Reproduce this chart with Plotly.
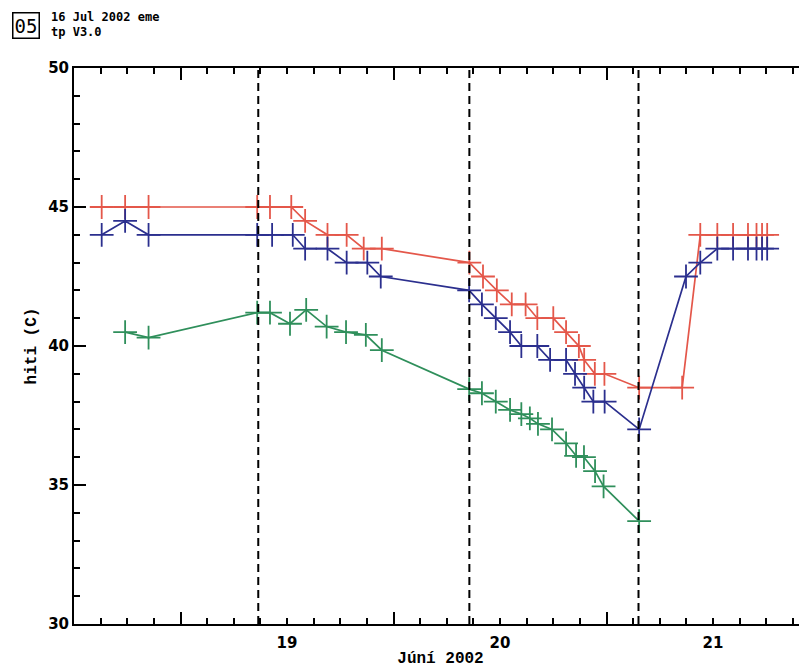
import plotly.graph_objects as go

# ---- data (day of June 2002, temperature in C) ----
red_days = [18.13, 18.24, 18.35, 18.86, 18.92, 19.02, 19.085, 19.19, 19.28, 19.36, 19.445,
            19.856, 19.92, 19.985, 20.055, 20.12, 20.175, 20.25, 20.31, 20.37, 20.395, 20.445,
            20.49, 20.653, 20.855, 20.94, 21.02, 21.094, 21.164, 21.204, 21.23, 21.254]
red_vals = [45.0, 45.0, 45.0, 45.0, 45.0, 45.0, 44.5, 44.0, 44.0, 43.5, 43.5,
            43.0, 42.5, 42.0, 41.5, 41.5, 41.0, 41.0, 40.5, 40.0, 39.5, 39.0,
            39.0, 38.5, 38.5, 44.0, 44.0, 44.0, 44.0, 44.0, 44.0, 44.0]

blue_days = [18.13, 18.24, 18.35, 18.86, 18.93, 19.027, 19.085, 19.19, 19.28, 19.377, 19.44,
             19.855, 19.915, 19.98, 20.047, 20.10, 20.175, 20.235, 20.31, 20.352, 20.395,
             20.438, 20.491, 20.653, 20.873, 20.94, 21.02, 21.094, 21.164, 21.204, 21.23, 21.254]
blue_vals = [44.0, 44.5, 44.0, 44.0, 44.0, 44.0, 43.5, 43.5, 43.0, 43.0, 42.5,
             42.0, 41.5, 41.0, 40.5, 40.0, 40.0, 39.5, 39.5, 39.0, 38.5,
             38.0, 38.0, 37.0, 42.5, 43.0, 43.5, 43.5, 43.5, 43.5, 43.5, 43.5]

green_days = [18.24, 18.35, 18.86, 18.92, 19.014, 19.09, 19.186, 19.277, 19.37, 19.445,
              19.855, 19.915, 19.98, 20.047, 20.10, 20.14, 20.178, 20.244, 20.31, 20.357,
              20.394, 20.446, 20.486, 20.653]
green_vals = [40.5, 40.3, 41.2, 41.2, 40.8, 41.3, 40.7, 40.5, 40.4, 39.85,
              38.45, 38.3, 38.0, 37.7, 37.55, 37.4, 37.2, 37.0, 36.5, 36.05,
              36.0, 35.5, 34.95, 33.7]

event_days = [18.865, 19.856, 20.650]

x_label_vals = [19, 20, 21]
x_label_text = ["19", "20", "21"]
x_long_ticks = [18.5, 19.5, 20.5, 21.5]
y_tick_vals = [30, 35, 40, 45, 50]
y_right_ticks = [35, 40, 45]

RED = "#e4574a"
BLUE = "#2b2f8e"
GREEN = "#2f8f5b"

fig = go.Figure()
for days, vals, col in [(red_days, red_vals, RED), (blue_days, blue_vals, BLUE),
                        (green_days, green_vals, GREEN)]:
    fig.add_trace(go.Scatter(
        x=days, y=vals, mode="lines+markers",
        line=dict(color=col, width=1.7),
        marker=dict(symbol="cross-thin", size=17, line=dict(color=col, width=1.8)),
        showlegend=False, xaxis="x", yaxis="y"))

# invisible traces to activate the overlay axes (extra tick sets)
fig.add_trace(go.Scatter(x=[18.0], y=[30], mode="markers", marker=dict(opacity=0),
                         xaxis="x2", yaxis="y", showlegend=False, hoverinfo="skip"))
fig.add_trace(go.Scatter(x=[18.0], y=[30], mode="markers", marker=dict(opacity=0),
                         xaxis="x", yaxis="y2", showlegend=False, hoverinfo="skip"))

for d in event_days:
    fig.add_shape(type="line", x0=d, x1=d, y0=0, y1=1, xref="x", yref="paper",
                  line=dict(color="black", width=2, dash="8px,5px"))

XR = [18.0, 21.441]
YR = [30, 50]
tickfont = dict(family="DejaVu Sans", size=15, color="black", weight="bold")

# page has an 8px body margin: figure is offset by 8px inside the window
fig.update_layout(
    width=799, height=660,
    margin=dict(l=66, r=0, t=60, b=44, autoexpand=False),
    paper_bgcolor="white", plot_bgcolor="white",
    xaxis=dict(range=XR, showgrid=False, zeroline=False, automargin=False,
               showline=True, linecolor="black", linewidth=2, mirror="ticks",
               ticks="inside", ticklen=6, tickwidth=1.5, tickcolor="black",
               tickvals=x_label_vals, ticktext=x_label_text, tickfont=tickfont,
               ticklabelstandoff=4,
               minor=dict(ticks="inside", tick0=18, dtick=0.125, ticklen=6,
                          tickwidth=1.5, tickcolor="black", showgrid=False),
               title=dict(text="Júní 2002", standoff=2,
                          font=dict(family="Liberation Mono", size=16, color="black",
                                    weight="bold"))),
    xaxis2=dict(range=XR, overlaying="x", anchor="y", side="bottom", automargin=False,
                showgrid=False, zeroline=False, showline=False, mirror="ticks",
                ticks="inside", ticklen=12, tickwidth=1.5, tickcolor="black",
                tickvals=x_long_ticks, showticklabels=False),
    yaxis=dict(range=YR, showgrid=False, zeroline=False, automargin=False,
               showline=True, linecolor="black", linewidth=2, mirror=False,
               ticks="inside", ticklen=12, tickwidth=1.5, tickcolor="black",
               tickvals=y_tick_vals, tickfont=tickfont,
               minor=dict(ticks="inside", dtick=1, ticklen=6, tickwidth=1.5,
                          tickcolor="black", showgrid=False),
               title=dict(text="hiti (C)", standoff=8,
                          font=dict(family="Liberation Mono", size=16, color="black",
                                    weight="bold"))),
    yaxis2=dict(range=YR, overlaying="y", anchor="x", side="right", automargin=False,
                showgrid=False, zeroline=False, showline=False,
                linecolor="rgba(0,0,0,0)", linewidth=0, mirror=False,
                ticks="inside", ticklen=7, tickwidth=1.5, tickcolor="black",
                tickvals=y_right_ticks, showticklabels=False),
)

hdr_font = dict(family="DejaVu Sans Mono", size=12, color="black", weight="bold")
fig.add_annotation(text="16 Jul 2002 eme", xref="paper", yref="paper",
                   x=(49 - 74) / 733, y=(624 - 17) / 556, xanchor="left", yanchor="middle",
                   showarrow=False, font=hdr_font)
fig.add_annotation(text="tp V3.0", xref="paper", yref="paper",
                   x=(49 - 74) / 733, y=(624 - 32) / 556, xanchor="left", yanchor="middle",
                   showarrow=False, font=hdr_font)
fig.add_annotation(text="05", xref="paper", yref="paper",
                   x=(12 - 74) / 733, y=(624 - 25) / 556, xanchor="left", yanchor="middle",
                   showarrow=False, bordercolor="black", borderwidth=1.5, borderpad=1,
                   font=dict(family="DejaVu Sans Mono", size=19, color="black"))

fig.write_html("out.html")
